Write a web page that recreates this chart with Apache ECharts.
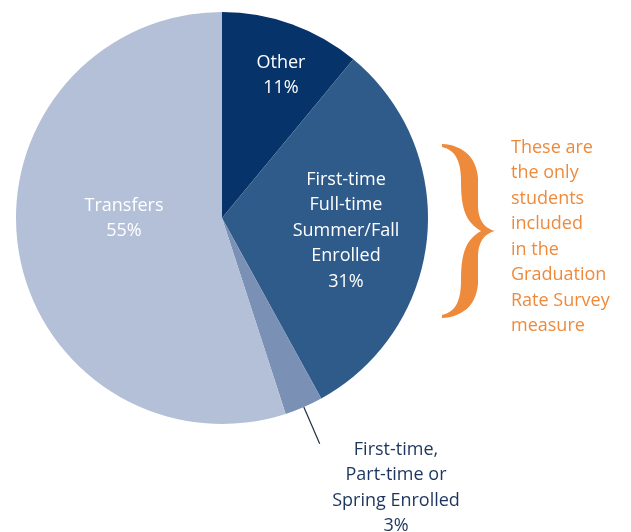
<!DOCTYPE html>
<html lang="en">
<head>
    <meta charset="UTF-8">
    <title>Student cohort</title>
    <script src="https://cdn.jsdelivr.net/npm/echarts@6/dist/echarts.min.js"></script>
    <style>html, body { margin: 0; padding: 0; background: #fff; }</style>
</head>
<body>
    <div id="main" style="width: 631px; height: 532px;"></div>

    <script type="text/javascript">
        // data
        var names = ['Other', 'First-time\nFull-time\nSummer/Fall\nEnrolled', 'First-time,\nPart-time or\nSpring Enrolled', 'Transfers'];
        var values = [11, 31, 3, 55];
        var noteLines = ['These are', 'the only', 'students', 'included', 'in the', 'Graduation', 'Rate Survey', 'measure'];

        // styling
        var colors = ['#05336a', '#2f5b8a', '#7b90b5', '#b3c0d8'];
        var orange = '#ee8a3c';
        var navyText = '#1c355e';
        // centre of each label block
        var labelPos = [[281, 75.5], [346, 230.5], [396, 488], [124, 218.5]];

        // curly brace outline, turned into polygon points
        var braceStart = [442, 144];
        var braceSegs = [
            [[462, 145], [476, 156], [478, 178]],
            [[478, 205]],
            [[478, 220], [484, 228], [495, 231]],
            [[484, 234], [478, 242], [478, 257]],
            [[478, 284]],
            [[476, 306], [462, 317], [442, 318]],
            [[442, 315]],
            [[456, 312], [461, 300], [461, 280]],
            [[461, 255], [465, 240], [481, 231]],
            [[465, 222], [461, 207], [461, 182]],
            [[461, 162], [456, 150], [442, 147]]
        ];
        function bracePoints() {
            var pts = [braceStart];
            var cur = braceStart;
            braceSegs.forEach(function (s) {
                if (s.length === 1) {
                    pts.push(s[0]);
                } else {
                    for (var k = 1; k <= 16; k++) {
                        var t = k / 16, u = 1 - t;
                        pts.push([
                            u * u * u * cur[0] + 3 * u * u * t * s[0][0] + 3 * u * t * t * s[1][0] + t * t * t * s[2][0],
                            u * u * u * cur[1] + 3 * u * u * t * s[0][1] + 3 * u * t * t * s[1][1] + t * t * t * s[2][1]
                        ]);
                    }
                }
                cur = s[s.length - 1];
            });
            return pts;
        }

        var myChart = echarts.init(document.getElementById('main'));

        var pieData = values.map(function (v, i) {
            var item = { name: names[i], value: v, itemStyle: { color: colors[i] } };
            if (i === 2) {
                item.label = { position: 'outside', color: navyText };
                item.labelLine = { show: true, length: 40, length2: 0, lineStyle: { color: '#1f2f45', width: 1.2 } };
            }
            return item;
        });

        var option = {
            animation: false,
            title: {
                text: noteLines.join('\n'),
                left: 511,
                top: 135,
                padding: 0,
                textStyle: {
                    color: orange,
                    fontSize: 18,
                    fontWeight: 'normal',
                    fontFamily: 'Open Sans',
                    lineHeight: 25.5
                }
            },
            graphic: [{
                type: 'polygon',
                silent: true,
                shape: { points: bracePoints() },
                style: { fill: orange }
            }],
            series: [{
                type: 'pie',
                center: [222, 218],
                radius: 206,
                startAngle: 90,
                clockwise: true,
                avoidLabelOverlap: false,
                silent: true,
                emphasis: { disabled: true },
                label: {
                    show: true,
                    position: 'inside',
                    formatter: '{b}\n{c}%',
                    color: '#ffffff',
                    fontSize: 18,
                    fontFamily: 'Open Sans',
                    lineHeight: 25.5,
                    align: 'center'
                },
                labelLine: { show: false },
                labelLayout: function (params) {
                    var p = labelPos[params.dataIndex];
                    var out = { x: p[0], y: p[1], align: 'center', verticalAlign: 'middle' };
                    if (params.labelLinePoints) {
                        var a = params.labelLinePoints[0];
                        var b = params.labelLinePoints[1];
                        out.labelLinePoints = [a, b, b];
                    }
                    return out;
                },
                data: pieData
            }]
        };

        myChart.setOption(option);
    </script>
</body>
</html>
